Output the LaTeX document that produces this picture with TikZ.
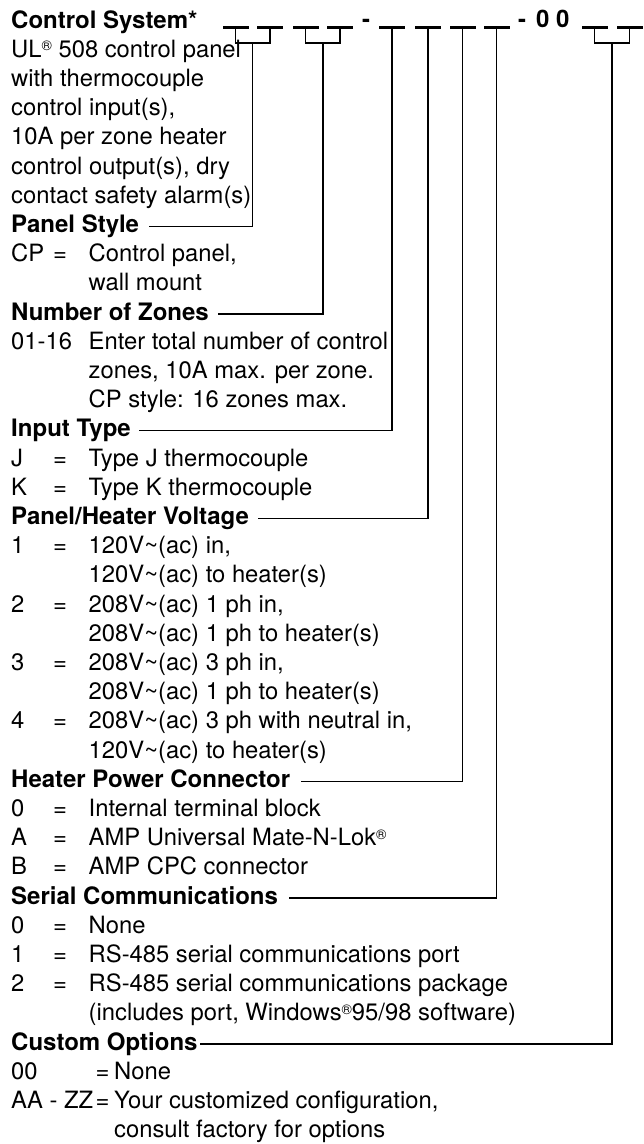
\documentclass[tikz,border=0pt]{standalone}
\usepackage{fontspec}
\setmainfont{TeX Gyre Heros}
\usetikzlibrary{calc}
\newcommand{\eqrow}[4]{%
  \node[txt] (#1l) at (11,#2) {#3};
  \node[txt] (#1e) at (53,#2) {=};
  \node[txt] (#1v) at (88.5,#2) {#4};}
\newcommand{\cont}[3]{\node[txt] (#1) at (88.5,#2) {#3};}
\newcommand{\reg}{\raisebox{6.5pt}{\fontsize{14}{14}\selectfont ®}}
\newcommand{\tl}{\textasciitilde}
\begin{document}
\begin{tikzpicture}[x=1pt,y=-1pt,
  txt/.style={anchor=base west, inner sep=0pt, font=\fontsize{23.8}{28}\selectfont},
  hdr/.style={txt, font=\bfseries\fontsize{24}{28}\selectfont, text height=17pt, text depth=5pt},
  dashbox/.style={rectangle, fill=black, draw=none, inner sep=0pt, minimum width=26pt, minimum height=3pt},
  conn/.style={draw=black, line width=1.1pt}]
\useasboundingbox (0,0) rectangle (643,1144);
% header strip
\node[hdr] (cs) at (11,28) {Control System*};
\node[dashbox] (d1) at (235.5,27) {};
\node[dashbox] (d2) at (270,27) {};
\node[dashbox] (d3) at (305.5,27) {};
\node[dashbox] (d4) at (340,27) {};
\node[hdr] (h1) at (362,27) {-};
\node[dashbox] (d5) at (392,27) {};
\node[dashbox] (d6) at (428,27) {};
\node[dashbox] (d7) at (462.5,27) {};
\node[dashbox] (d8) at (496.5,27) {};
\node[hdr] (h2) at (518,27) {-};
\node[hdr] (oo) at (536,27) {0 0};
\node[dashbox] (d9) at (594.5,27) {};
\node[dashbox] (d10) at (629.5,27) {};
% descriptions
\node[txt] (t2) at (11,57.2) {UL\reg{} 508 control panel};
\node[txt] (t3) at (11,86.4) {with thermocouple};
\node[txt] (t4) at (11,115.6) {control input(s),};
\node[txt] (t5) at (11,144.8) {10A per zone heater};
\node[txt] (t6) at (11,174.0) {control output(s), dry};
\node[txt] (t7) at (11,203.2) {contact safety alarm(s)};
\node[hdr] (ps) at (11,232.4) {Panel Style};
\eqrow{r9}{261.6}{CP}{Control panel,}
\cont{r10}{290.8}{wall mount}
\node[hdr] (nz) at (11,320.0) {Number of Zones};
\node[txt] (r12l) at (11,349.2) {01-16};
\cont{r12v}{349.2}{Enter total number of control}
\cont{r13}{378.4}{zones, 10A max. per zone.}
\cont{r14}{407.6}{CP style: 16 zones max.}
\node[hdr] (it) at (11,436.8) {Input Type};
\eqrow{r16}{466.0}{J}{Type J thermocouple}
\eqrow{r17}{495.2}{K}{Type K thermocouple}
\node[hdr] (pv) at (11,524.4) {Panel/Heater Voltage};
\eqrow{r19}{553.6}{1}{120V\tl(ac) in,}
\cont{r20}{582.8}{120V\tl(ac) to heater(s)}
\eqrow{r21}{612.0}{2}{208V\tl(ac) 1 ph in,}
\cont{r22}{641.2}{208V\tl(ac) 1 ph to heater(s)}
\eqrow{r23}{670.4}{3}{208V\tl(ac) 3 ph in,}
\cont{r24}{699.6}{208V\tl(ac) 1 ph to heater(s)}
\eqrow{r25}{728.8}{4}{208V\tl(ac) 3 ph with neutral in,}
\cont{r26}{758.0}{120V\tl(ac) to heater(s)}
\node[hdr] (hp) at (11,787.2) {Heater Power Connector};
\eqrow{r28}{816.4}{0}{Internal terminal block}
\eqrow{r29}{845.6}{A}{AMP Universal Mate-N-Lok\reg}
\eqrow{r30}{874.8}{B}{AMP CPC connector}
\node[hdr] (sc) at (11,904.0) {Serial Communications};
\eqrow{r32}{933.2}{0}{None}
\eqrow{r33}{962.4}{1}{RS-485 serial communications port}
\eqrow{r34}{991.6}{2}{RS-485 serial communications package}
\cont{r35}{1020.8}{(includes port, Windows\reg95/98 software)}
\node[hdr] (co) at (11,1050.0) {Custom Options};
\node[txt] (r37l) at (11,1079.2) {00};
\node[txt] (r37e) at (95.5,1079.2) {=};
\node[txt] (r37v) at (114,1079.2) {None};
\node[txt] (r38l) at (11,1108.4) {AA - ZZ};
\node[txt] (r38e) at (95.5,1108.4) {=};
\node[txt] (r38v) at (114,1108.4) {Your customized configuration,};
\node[txt] (r39) at (114,1137.6) {consult factory for options};
% brackets and connectors
\coordinate (k1) at (252.7,43);
\coordinate (k2) at (323,43);
\coordinate (k3) at (612,43);
\draw[conn] (d1.south) |- (k1) -| (d2.south);
\draw[conn] (k1) |- ([xshift=10pt]ps.east);
\draw[conn] (d3.south) |- (k2) -| (d4.south);
\draw[conn] (k2) |- ([xshift=9pt]nz.east);
\draw[conn] (d5.south) |- ([xshift=8pt]it.east);
\draw[conn] (d6.south) |- ([xshift=9pt]pv.east);
\draw[conn] (d7.south) |- ([xshift=11pt]hp.east);
\draw[conn] (d8.south) |- ([xshift=11pt]sc.east);
\draw[conn] (d9.south) |- (k3) -| (d10.south);
\draw[conn] (k3) |- ([xshift=2pt]co.east);
\end{tikzpicture}
\end{document}
